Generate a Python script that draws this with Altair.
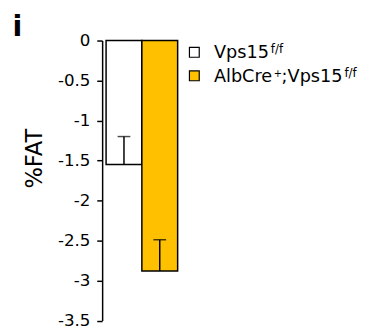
import altair as alt
import pandas as pd

groups = ["Vps15f/f", "AlbCre+;Vps15f/f"]
means = [-1.55, -2.88]
err_top = [-1.2, -2.49]
fills = ["#FFFFFF", "#FFC000"]
y_ticks = [0, -0.5, -1, -1.5, -2, -2.5, -3, -3.5]

# legend text pieces
leg_text = ["Vps15", "f/f", "AlbCre", "+", ";Vps15", "f/f"]
leg_row = [0, 0, 1, 1, 1, 1]
leg_x = [114, 172, 114, 175, 183, 247]
leg_sup = [False, True, False, True, False, True]
leg_fs = [18, 12, 18, 10, 18, 12]

FONT = "DejaVu Sans"

df = pd.DataFrame({"group": groups, "mean": means, "top": err_top, "fill": fills})

xenc = alt.X("group:N", sort=groups, axis=None,
             scale=alt.Scale(paddingInner=0, paddingOuter=0.11))
yscale = alt.Scale(domain=[-3.5, 0], nice=False, zero=False)

bars = alt.Chart(df).mark_bar(stroke="black", strokeWidth=1.5).encode(
    x=xenc,
    y=alt.Y("mean:Q", scale=yscale,
            axis=alt.Axis(values=y_ticks, labelExpr="toString(datum.value)",
                          grid=False, tickSize=5.5, tickWidth=1.5, domainWidth=1.5,
                          domainColor="black", tickColor="black",
                          labelColor="black", labelFontSize=17, labelFont=FONT,
                          labelPadding=7,
                          title="%FAT", titleFont=FONT, titleFontSize=23,
                          titleFontWeight="normal", titleColor="black",
                          titleY=120, titleX=-62, titleBaseline="alphabetic",
                          titleAngle=270)),
    y2=alt.datum(0),
    fill=alt.Fill("fill:N", scale=None),
)

err = alt.Chart(df).mark_rule(color="black", strokeWidth=1.5).encode(
    x=xenc, y=alt.Y("mean:Q", scale=yscale, axis=None), y2="top:Q")
cap = alt.Chart(df).mark_tick(color="black", thickness=1.5, size=13).encode(
    x=xenc, y=alt.Y("top:Q", scale=yscale, axis=None))

sq_df = pd.DataFrame({"fill": fills, "row": [0, 1]})
squares = alt.Chart(sq_df).mark_square(size=100, stroke="black", strokeWidth=1.2, opacity=1).encode(
    x=alt.value(94),
    y=alt.Y("row:Q", scale=alt.Scale(domain=[0, 1], range=[12, 36]), axis=None),
    fill=alt.Fill("fill:N", scale=None),
)

lt = pd.DataFrame({"text": leg_text, "row": leg_row, "xo": leg_x, "sup": leg_sup, "fs": leg_fs})
lt["ypos"] = lt["row"] * 24 + 18 - lt["sup"].astype(int) * 5
legtext = alt.Chart(lt).mark_text(align="left", baseline="alphabetic", font=FONT, color="black").encode(
    x=alt.X("xo:Q", scale=None, axis=None),
    y=alt.Y("ypos:Q", scale=None, axis=None),
    text="text:N",
    size=alt.Size("fs:Q", scale=None, legend=None),
)

title = alt.Chart(pd.DataFrame({"t": ["i"]})).mark_text(
    align="left", baseline="alphabetic", font=FONT, fontSize=29, fontWeight="bold", color="black"
).encode(x=alt.value(-91.5), y=alt.value(-5), text="t:N")

chart = alt.layer(bars, err, cap, squares, legtext, title).resolve_scale(
    y="independent", x="independent"
).properties(
    width=81, height=285.5,
    autosize=alt.AutoSizeParams(type="none"),
    padding={"left": 96, "top": 30, "right": 186, "bottom": 9},
).configure_view(stroke=None)

chart.save("out.html", embed_options={"renderer": "svg", "actions": False})
